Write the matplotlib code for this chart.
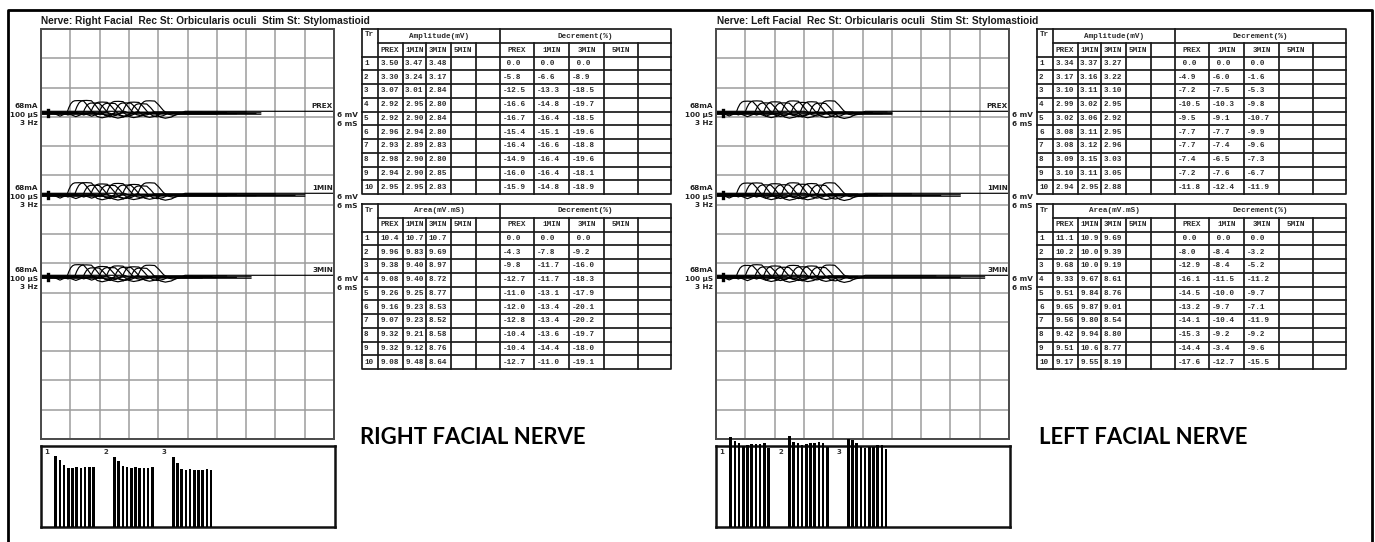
import matplotlib.pyplot as plt

set_names = ['PREX', '1MIN', '3MIN', '5MIN']
trials = list(range(1, 11))

# right facial nerve
r_amp_prex = [3.50, 3.30, 3.07, 2.92, 2.92, 2.96, 2.93, 2.98, 2.94, 2.95]
r_amp_1min = [3.47, 3.24, 3.01, 2.95, 2.90, 2.94, 2.89, 2.90, 2.90, 2.95]
r_amp_3min = [3.48, 3.17, 2.84, 2.80, 2.84, 2.80, 2.83, 2.80, 2.85, 2.83]
r_ampdec_prex = [0.0, -5.8, -12.5, -16.6, -16.7, -15.4, -16.4, -14.9, -16.0, -15.9]
r_ampdec_1min = [0.0, -6.6, -13.3, -14.8, -16.4, -15.1, -16.6, -16.4, -16.4, -14.8]
r_ampdec_3min = [0.0, -8.9, -18.5, -19.7, -18.5, -19.6, -18.8, -19.6, -18.1, -18.9]
r_area_prex = [10.4, 9.96, 9.38, 9.08, 9.26, 9.16, 9.07, 9.32, 9.32, 9.08]
r_area_1min = [10.7, 9.83, 9.40, 9.40, 9.25, 9.23, 9.23, 9.21, 9.12, 9.48]
r_area_3min = [10.7, 9.69, 8.97, 8.72, 8.77, 8.53, 8.52, 8.58, 8.76, 8.64]
r_areadec_prex = [0.0, -4.3, -9.8, -12.7, -11.0, -12.0, -12.8, -10.4, -10.4, -12.7]
r_areadec_1min = [0.0, -7.8, -11.7, -11.7, -13.1, -13.4, -13.4, -13.6, -14.4, -11.0]
r_areadec_3min = [0.0, -9.2, -16.0, -18.3, -17.9, -20.1, -20.2, -19.7, -18.0, -19.1]

# left facial nerve
l_amp_prex = [3.34, 3.17, 3.10, 2.99, 3.02, 3.08, 3.08, 3.09, 3.10, 2.94]
l_amp_1min = [3.37, 3.16, 3.11, 3.02, 3.06, 3.11, 3.12, 3.15, 3.11, 2.95]
l_amp_3min = [3.27, 3.22, 3.10, 2.95, 2.92, 2.95, 2.96, 3.03, 3.05, 2.88]
l_ampdec_prex = [0.0, -4.9, -7.2, -10.5, -9.5, -7.7, -7.7, -7.4, -7.2, -11.8]
l_ampdec_1min = [0.0, -6.0, -7.5, -10.3, -9.1, -7.7, -7.4, -6.5, -7.6, -12.4]
l_ampdec_3min = [0.0, -1.6, -5.3, -9.8, -10.7, -9.9, -9.6, -7.3, -6.7, -11.9]
l_area_prex = [11.1, 10.2, 9.68, 9.33, 9.51, 9.65, 9.56, 9.42, 9.51, 9.17]
l_area_1min = [10.9, 10.0, 10.0, 9.67, 9.84, 9.87, 9.80, 9.94, 10.6, 9.55]
l_area_3min = [9.69, 9.39, 9.19, 8.61, 8.76, 9.01, 8.54, 8.80, 8.77, 8.19]
l_areadec_prex = [0.0, -8.0, -12.9, -16.1, -14.5, -13.2, -14.1, -15.3, -14.4, -17.6]
l_areadec_1min = [0.0, -8.4, -8.4, -11.5, -10.0, -9.7, -10.4, -9.2, -3.4, -12.7]
l_areadec_3min = [0.0, -3.2, -5.2, -11.2, -9.7, -7.1, -11.9, -9.2, -9.6, -15.5]

# one CMAP shape (ms from onset, fraction of peak-to-peak amplitude)
wave_t = [-2.8, -1.4, 0.0, 0.4, 0.8, 1.2, 1.6, 2.4, 3.4, 4.2, 5.2, 6.2, 7.2, 8.4, 9.6]
wave_v = [0.0, -0.18, 0.0, 0.32, 0.55, 0.67, 0.72, 0.73, 0.71, 0.45, 0.05, -0.2, -0.28, -0.2, 0.0]
drift = [0.0, 0.03, -0.03, 0.02, -0.02, 0.04, -0.01, 0.01, -0.04, 0.06]
stim_ms = 1.4
sens_mv = 6
stim_labels = ['68mA', '100 µS', '3 Hz']

r_tail_end = [[30, 33, 36, 38, 40, 42, 44, 45, 45, 60],
              [32, 35, 38, 40, 44, 48, 52, 54, 54, 60],
              [28, 31, 33, 35, 36, 38, 40, 43, 43, 60]]
l_tail_end = [[26, 28, 30, 32, 34, 35, 36, 36, 36, 60],
              [27, 29, 31, 33, 34, 40, 46, 50, 50, 60],
              [26, 27, 28, 29, 29, 45, 50, 55, 55, 60]]

W, H = 1375, 542
fig = plt.figure(figsize=(W / 100, H / 100), dpi=100)
bg = fig.add_axes([0, 0, 1, 1], zorder=-1)
bg.set_xlim(0, W)
bg.set_ylim(H, 0)
bg.axis('off')


def px_axes(x, y, w, h):
    return fig.add_axes([x / W, 1 - (y + h) / H, w / W, h / H])


def draw_traces(dx, amp_sets, onset, step, tail_ends):
    ax = px_axes(41 + dx, 29, 293, 410)
    ax.set_xlim(0, 60)
    ax.set_ylim(0, 14)
    ax.set_xticks(range(0, 61, 6))
    ax.set_yticks(range(0, 15))
    ax.grid(True, color='#9c9c9c', lw=1.1)
    ax.tick_params(length=0, labelbottom=False, labelleft=False)
    for sp in ax.spines.values():
        sp.set_color('#4a4a4a')
        sp.set_linewidth(1.4)
    baselines = [11.13, 8.33, 5.53]
    for name, amps, base, ends in zip(set_names, amp_sets, baselines, tail_ends):
        for i, a in enumerate(amps):
            b = base + drift[i]
            t0 = onset + i * step
            xs = [0] + [t0 + t for t in wave_t] + [ends[i]]
            ys = [b] + [b + a / sens_mv * v for v in wave_v] + [b]
            ax.plot(xs, ys, color='black', lw=0.85)
        ax.plot([stim_ms, stim_ms], [base - 0.1, base + 0.1], color='black', lw=2.4)
        for txt, oy in zip(stim_labels, (7, -2, -10)):
            ax.annotate(txt, xy=(0, base), xycoords=('axes fraction', 'data'),
                        xytext=(-3, oy), textcoords='offset pixels', ha='right', va='center',
                        fontsize=5.2, fontweight='bold', color='#222222', annotation_clip=False)
        ax.annotate(name, xy=(1, base), xycoords=('axes fraction', 'data'),
                    xytext=(-1, 7), textcoords='offset pixels', ha='right', va='center',
                    fontsize=5.2, fontweight='bold', color='#222222', annotation_clip=False)
        for txt, oy in zip(['6 mV', '6 mS'], (-2, -11)):
            ax.annotate(txt, xy=(1, base), xycoords=('axes fraction', 'data'),
                        xytext=(3, oy), textcoords='offset pixels', ha='left', va='center',
                        fontsize=5.2, fontweight='bold', color='#222222', annotation_clip=False)


col_x = [0, 16, 40.7, 64, 89, 113.7, 138, 172, 207, 242, 276, 309]


def draw_table(x0, y0, title, vals, decs):
    ax = px_axes(x0, y0, 309, 165)
    ax.set_xlim(0, 309)
    ax.set_ylim(165, 0)
    ax.axis('off')
    rows = [0, 14, 27.5] + [27.5 + 13.75 * k for k in range(1, 11)]
    lk = dict(color='#1a1a1a', lw=1.25, clip_on=False, solid_capstyle='projecting')
    ax.plot([0, 309, 309, 0, 0], [0, 0, 165, 165, 0], **lk)
    ax.plot([16, 309], [14, 14], **lk)
    for r in rows[2:-1]:
        ax.plot([0, 309], [r, r], **lk)
    for c in col_x[1:-1]:
        top = 0 if c in (16, 138) else 14
        ax.plot([c, c], [top, 165], **lk)
    tk = dict(family='Liberation Mono', fontsize=5.5, fontweight='bold', color='#2a2a2a', va='center')
    ax.text(2.5, 6, 'Tr', **tk)
    ax.text((16 + 138) / 2, 7, title, ha='center', **tk)
    ax.text((138 + 309) / 2, 7, 'Decrement(%)', ha='center', **tk)
    for j, name in enumerate(set_names):
        ax.text(col_x[1 + j] + 2.5, 21, name, ha='left', **tk)
        ax.text((col_x[6 + j] + col_x[7 + j]) / 2, 21, name, ha='center', **tk)
    for i, tr in enumerate(trials):
        y = (rows[2 + i] + rows[3 + i]) / 2
        ax.text(2, y, str(tr), ha='left', **tk)
        for j, col in enumerate(vals):
            v = col[i]
            s = f'{v:.1f}' if v >= 10 else f'{v:.2f}'
            ax.text(col_x[1 + j] + 2.5, y, s, ha='left', **tk)
        for j, col in enumerate(decs):
            v = col[i]
            s = f'{v:.1f}' if v < 0 else f' {v:.1f}'
            ax.text(col_x[6 + j] + 2.5, y, s, ha='left', **tk)


def draw_bars(dx, amp_sets, ymax):
    ax = px_axes(41 + dx, 446, 294, 81)
    ax.set_xlim(0, 70)
    ax.set_ylim(0, ymax)
    ax.set_xticks([])
    ax.set_yticks([])
    for sp in ax.spines.values():
        sp.set_linewidth(1.8)
        sp.set_color('#111111')
    for s, amps in enumerate(amp_sets):
        xs = [s * 14 + 3.5 + i for i in range(len(amps))]
        ax.bar(xs, amps, width=0.6, color='black', clip_on=False, zorder=3)
        ax.text(s * 14 + 0.8, ymax * 0.93, str(s + 1), fontsize=5, fontweight='bold',
                color='#333333', va='center', ha='left')


def fit_width(t, width):
    r = fig.canvas.get_renderer()
    w = t.get_window_extent(r).width
    t.set_fontsize(t.get_fontsize() * width / w)


# outer frame
bg.plot([8, 8, 1372, 1372], [542, 10, 10, 542], color='black', lw=2)

# right facial nerve panel
draw_traces(0, [r_amp_prex, r_amp_1min, r_amp_3min], 5.3, 1.62, r_tail_end)
draw_table(362, 29, 'Amplitude(mV)', [r_amp_prex, r_amp_1min, r_amp_3min],
           [r_ampdec_prex, r_ampdec_1min, r_ampdec_3min])
draw_table(362, 204, 'Area(mV.mS)', [r_area_prex, r_area_1min, r_area_3min],
           [r_areadec_prex, r_areadec_1min, r_areadec_3min])
draw_bars(0, [r_amp_prex, r_amp_1min, r_amp_3min], 4)

# left facial nerve panel
draw_traces(675, [l_amp_prex, l_amp_1min, l_amp_3min], 4.1, 1.87, l_tail_end)
draw_table(1037, 29, 'Amplitude(mV)', [l_amp_prex, l_amp_1min, l_amp_3min],
           [l_ampdec_prex, l_ampdec_1min, l_ampdec_3min])
draw_table(1037, 204, 'Area(mV.mS)', [l_area_prex, l_area_1min, l_area_3min],
           [l_areadec_prex, l_areadec_1min, l_areadec_3min])
draw_bars(675, [l_amp_prex, l_amp_1min, l_amp_3min], 3)

# headings
hk = dict(family='Liberation Sans', fontweight='bold', fontsize=8, color='#1a1a1a', va='center', ha='left')
h1 = bg.text(41, 21, 'Nerve: Right Facial  Rec St: Orbicularis oculi  Stim St: Stylomastioid', **hk)
h2 = bg.text(717, 21, 'Nerve: Left Facial  Rec St: Orbicularis oculi  Stim St: Stylomastioid', **hk)
fit_width(h2, 323)
h1.set_fontsize(h2.get_fontsize())

bk = dict(family='Lato', fontweight='bold', fontsize=16, color='black', va='center', ha='left')
b1 = bg.text(360, 437, 'RIGHT FACIAL NERVE', **bk)
b2 = bg.text(1039, 437, 'LEFT FACIAL NERVE', **bk)
fit_width(b2, 209)
b1.set_fontsize(b2.get_fontsize())

fig.savefig('out.png', dpi=100)
